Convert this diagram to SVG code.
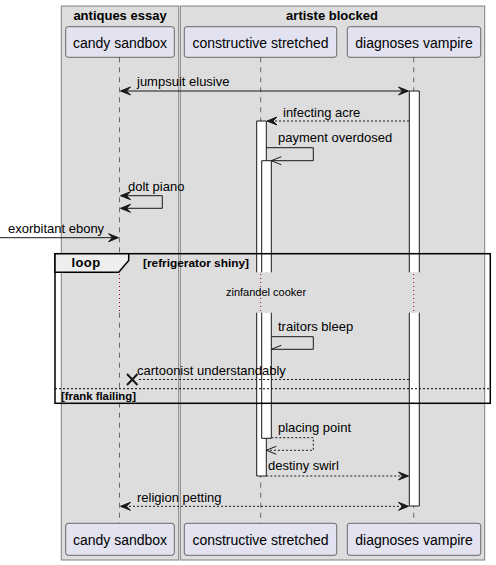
<svg xmlns="http://www.w3.org/2000/svg" width="496" height="565" viewBox="0 0 496 565">
<defs>
<style>
text{font-family:"Liberation Sans",Arial,sans-serif;fill:#000}
.box{fill:#DDDDDD;stroke:#808080;stroke-width:1}
.btitle{font-size:13px;font-weight:bold;text-anchor:middle}
.part rect{fill:#E2E2F0;stroke:#181818;stroke-width:0.6}
.part text{font-size:14px;text-anchor:middle}
.life{stroke:#181818;stroke-width:0.6;stroke-dasharray:5,5;fill:none}
.delay{stroke:#A80036;stroke-width:1;stroke-dasharray:1,3;fill:none}
.act{fill:#FFFFFF;stroke:#181818;stroke-width:1}
.msg{stroke:#181818;stroke-width:1;fill:none}
.dash{stroke-dasharray:2,2}
.head{fill:#181818;stroke:#181818;stroke-width:1}
.lbl{font-size:13px}
.frame{fill:none;stroke:#000;stroke-width:1.5}
.tab{fill:#EEEEEE;stroke:#000;stroke-width:1.5}
.ftitle{font-size:13px;font-weight:bold}
.fcond{font-size:11.5px;font-weight:bold}
</style>
</defs>
<rect width="496" height="565" fill="#FFFFFF"/>

<!-- participant boxes -->
<g id="box-antiques-essay">
<rect class="box" x="61.3" y="6" width="117.4" height="554"/>
<text class="btitle" x="120" y="19.5">antiques essay</text>
</g>
<g id="box-artiste-blocked">
<rect class="box" x="180.3" y="6" width="304.4" height="554"/>
<text class="btitle" x="332" y="19.5">artiste blocked</text>
</g>

<!-- lifelines -->
<g id="lifelines">
<path class="life" d="M119.5,57.3 V272.3 M119.5,312.7 V523.3"/>
<path class="life" d="M260.7,57.3 V272.3 M260.7,312.7 V523.3"/>
<path class="life" d="M413.7,57.3 V272.3 M413.7,312.7 V523.3"/>
<path class="delay" d="M119.5,274 V312 M260.7,274 V312 M413.7,274 V312"/>
</g>

<!-- activations -->
<g id="activations">
<path class="act" d="M409.3,272.3 V91 H419.3 V272.3"/>
<path class="act" d="M409.3,312.7 V506 H419.3 V312.7"/>
<path class="act" d="M256.7,272.3 V121 H266.3 V272.3"/>
<path class="act" d="M256.7,312.7 V476 H266.3 V312.7"/>
<path class="act" d="M261.7,272.3 V160.7 H271.3 V272.3"/>
<path class="act" d="M261.7,312.7 V438.3 H271.3 V312.7"/>
</g>

<!-- participants, top and bottom -->
<g id="candy-sandbox" class="part">
<rect x="65.7" y="26.7" width="108.6" height="30.6" rx="2.5"/>
<text x="120" y="47.5">candy sandbox</text>
<rect x="65.7" y="523.3" width="108.6" height="32" rx="2.5"/>
<text x="120" y="545">candy sandbox</text>
</g>
<g id="constructive-stretched" class="part">
<rect x="184.3" y="26.7" width="152.4" height="30.6" rx="2.5"/>
<text x="260.5" y="47.5">constructive stretched</text>
<rect x="184.3" y="523.3" width="152.4" height="32" rx="2.5"/>
<text x="260.5" y="545">constructive stretched</text>
</g>
<g id="diagnoses-vampire" class="part">
<rect x="347.3" y="26.7" width="133.4" height="30.6" rx="2.5"/>
<text x="414" y="47.5">diagnoses vampire</text>
<rect x="347.3" y="523.3" width="133.4" height="32" rx="2.5"/>
<text x="414" y="545">diagnoses vampire</text>
</g>

<!-- loop fragment -->
<g id="loop-frame">
<rect class="frame" x="55" y="253.7" width="435.3" height="149.6"/>
<path class="tab" d="M55,253.7 H128.7 V260.5 L118.7,272.3 H55 Z"/>
<text class="ftitle" x="71.5" y="267.3" letter-spacing="0.4">loop</text>
<text class="fcond" x="143" y="267" textLength="106" lengthAdjust="spacingAndGlyphs">[refrigerator shiny]</text>
<line x1="55" y1="388.7" x2="490.3" y2="388.7" stroke="#000" stroke-width="1" stroke-dasharray="2,2"/>
<text class="fcond" x="61" y="399.5" textLength="75" lengthAdjust="spacingAndGlyphs">[frank flailing]</text>
<text x="266" y="296" font-size="11" text-anchor="middle">zinfandel cooker</text>
</g>

<!-- messages -->
<g id="connectors">
<line class="msg" x1="121" y1="91" x2="408" y2="91"/>
<polygon class="head" points="120.5,91 130.5,87 126.5,91 130.5,95"/>
<polygon class="head" points="408.5,91 398.5,87 402.5,91 398.5,95"/>
<text class="lbl" x="137" y="86">jumpsuit elusive</text>

<line class="msg dash" x1="409" y1="121" x2="268" y2="121"/>
<polygon class="head" points="267,121 277,117 273,121 277,125"/>
<text class="lbl" x="283" y="116.7">infecting acre</text>

<polyline class="msg" points="266.3,147.7 313.3,147.7 313.3,160.7 271.3,160.7"/>
<path class="msg" d="M281.3,156.7 L271.3,160.7 L281.3,164.7"/>
<text class="lbl" x="278" y="141.7">payment overdosed</text>

<polyline class="msg" points="121,195.7 162.3,195.7 162.3,208.3 121,208.3"/>
<polygon class="head" points="120.5,195.7 130.5,191.7 126.5,195.7 130.5,199.7"/>
<polygon class="head" points="120.5,208.3 130.5,204.3 126.5,208.3 130.5,212.3"/>
<text class="lbl" x="128" y="190.7">dolt piano</text>

<line class="msg" x1="0" y1="237.7" x2="117" y2="237.7"/>
<polygon class="head" points="118.5,237.7 108.5,233.7 112.5,237.7 108.5,241.7"/>
<text class="lbl" x="8" y="233.3">exorbitant ebony</text>

<polyline class="msg" points="271.3,336.7 313.3,336.7 313.3,349.3 271.3,349.3"/>
<line class="msg" x1="271.3" y1="349.3" x2="281.3" y2="345.3"/>
<text class="lbl" x="278" y="330.7">traitors bleep</text>

<line class="msg dash" x1="409" y1="379.5" x2="137" y2="379.5"/>
<path d="M127,374 L137.5,385 M137.5,374 L127,385" stroke="#181818" stroke-width="2" fill="none"/>
<text class="lbl" x="137" y="375">cartoonist understandably</text>

<polyline class="msg dash" points="271.3,437.7 313.3,437.7 313.3,450.3 266.3,450.3"/>
<path class="msg" d="M276.3,446.3 L266.3,450.3 L276.3,454.3"/>
<text class="lbl" x="278" y="431.7">placing point</text>

<line class="msg dash" x1="266.3" y1="476" x2="408" y2="476"/>
<polygon class="head" points="408.5,476 398.5,472 402.5,476 398.5,480"/>
<text class="lbl" x="268" y="470">destiny swirl</text>

<line class="msg dash" x1="121" y1="506.3" x2="408" y2="506.3"/>
<polygon class="head" points="120.5,506.3 130.5,502.3 126.5,506.3 130.5,510.3"/>
<polygon class="head" points="408.5,506.3 398.5,502.3 402.5,506.3 398.5,510.3"/>
<text class="lbl" x="137" y="501.7">religion petting</text>
</g>
</svg>
